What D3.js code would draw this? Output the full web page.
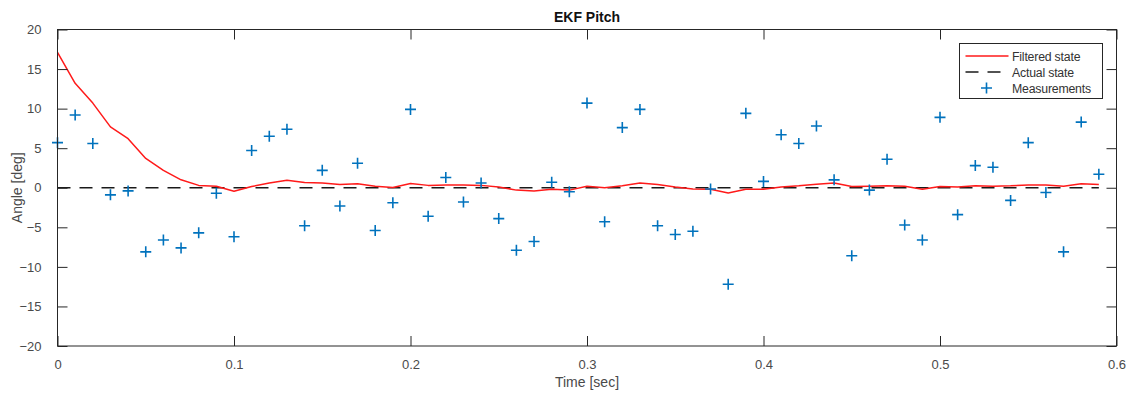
<!DOCTYPE html>
<html>
<head>
<meta charset="utf-8">
<script src="https://cdn.jsdelivr.net/npm/d3@7"></script>
<style>
  html, body { margin: 0; padding: 0; background: #fff; }
  svg { display: block; }
  text { font-family: "Liberation Sans", Arial, Helvetica, sans-serif; }
</style>
</head>
<body>
<svg id="chart" width="1134" height="396"></svg>
<script>
// Sample times [sec]
const time = d3.range(60).map(i => +(i * 0.01).toFixed(2));

// Noisy pitch measurements [deg]
const measurements = [
  5.7, 9.2, 5.6, -0.9, -0.4, -8.1, -6.6, -7.6, -5.7, -0.7,
  -6.2, 4.7, 6.5, 7.4, -4.8, 2.2, -2.3, 3.1, -5.4, -1.9,
  9.9, -3.6, 1.3, -1.8, 0.6, -3.9, -7.9, -6.8, 0.7, -0.5,
  10.7, -4.3, 7.6, 9.9, -4.8, -5.9, -5.5, -0.15, -12.2, 9.4,
  0.8, 6.7, 5.6, 7.8, 1.0, -8.6, -0.3, 3.6, -4.7, -6.6,
  8.9, -3.4, 2.8, 2.6, -1.6, 5.7, -0.6, -8.1, 8.3, 1.7
];

// EKF filtered pitch estimate [deg]
const filtered = [
  17.1, 13.2, 10.7, 7.7, 6.2, 3.7, 2.2, 1.0, 0.3, 0.2,
  -0.45, 0.15, 0.6, 0.95, 0.65, 0.6, 0.4, 0.5, 0.2, 0.03,
  0.55, 0.3, 0.35, 0.35, 0.3, 0.1, -0.3, -0.4, -0.2, -0.3,
  0.2, 0.0, 0.25, 0.6, 0.4, 0.1, -0.15, -0.2, -0.65, -0.2,
  -0.2, 0.1, 0.25, 0.45, 0.6, 0.15, 0.2, 0.25, 0.2, -0.2,
  0.15, 0.1, 0.25, 0.2, 0.25, 0.35, 0.35, 0.2, 0.5, 0.4
];

// True pitch [deg]
const actual = time.map(() => 0);

const xTicks = [0, 0.1, 0.2, 0.3, 0.4, 0.5, 0.6];
const yTicks = [-20, -15, -10, -5, 0, 5, 10, 15, 20];
const legendLabels = ["Filtered state", "Actual state", "Measurements"];

const axisColor = "#262626";
const labelColor = "#4a4a4a";
const blue = "#0072BD";
const red = "#FF1A1A";
const dash = "13,9";

const svg = d3.select("#chart");
const plotLeft = 57.5, plotRight = 1116.5, plotTop = 29.5, plotBottom = 346;

const x = d3.scaleLinear().domain([0, 0.6]).range([plotLeft, plotRight]);
const y = d3.scaleLinear().domain([-20, 20]).range([plotBottom, plotTop]);

const plot = svg.append("g");

// Actual state (dashed)
plot.append("path")
  .datum(time.map((t, i) => [t, actual[i]]))
  .attr("fill", "none")
  .attr("stroke", "#1a1a1a")
  .attr("stroke-width", 1.4)
  .attr("stroke-dasharray", dash)
  .attr("d", d3.line().x(d => x(d[0])).y(d => y(d[1])));

// Filtered state
plot.append("path")
  .datum(time.map((t, i) => [t, filtered[i]]))
  .attr("fill", "none")
  .attr("stroke", red)
  .attr("stroke-width", 1.5)
  .attr("stroke-linejoin", "round")
  .attr("d", d3.line().x(d => x(d[0])).y(d => y(d[1])));

// Measurement markers
const plusPath = (cx, cy, r) => `M${cx - r},${cy}H${cx + r}M${cx},${cy - r}V${cy + r}`;
plot.append("g")
  .selectAll("path")
  .data(time.map((t, i) => [t, measurements[i]]))
  .join("path")
  .attr("d", d => plusPath(x(d[0]), y(d[1]), 5.5))
  .attr("stroke", blue)
  .attr("stroke-width", 1.6)
  .attr("fill", "none");

// Axes: ticks pointing inward on all four sides
const tickLen = 10;
const xBottom = d3.axisBottom(x).tickValues(xTicks).tickSizeInner(-tickLen).tickSizeOuter(0)
  .tickPadding(14).tickFormat(d => d === 0 ? "0" : d3.format("")(d));
const xTop = d3.axisTop(x).tickValues(xTicks).tickSizeInner(-tickLen).tickSizeOuter(0).tickFormat("");
const yLeft = d3.axisLeft(y).tickValues(yTicks).tickSizeInner(-tickLen).tickSizeOuter(0).tickPadding(16);
const yRight = d3.axisRight(y).tickValues(yTicks).tickSizeInner(-tickLen).tickSizeOuter(0).tickFormat("");

function styleAxis(g) {
  g.select(".domain").remove();
  g.selectAll(".tick line").attr("stroke", axisColor).attr("stroke-width", 1);
  g.selectAll(".tick text").attr("fill", labelColor).attr("font-size", 13)
    .attr("font-family", "'Liberation Sans', Arial, sans-serif");
}

svg.append("g").attr("transform", `translate(0,${plotBottom})`).call(xBottom).call(styleAxis);
svg.append("g").attr("transform", `translate(0,${plotTop})`).call(xTop).call(styleAxis);
svg.append("g").attr("transform", `translate(${plotLeft},0)`).call(yLeft).call(styleAxis);
svg.append("g").attr("transform", `translate(${plotRight},0)`).call(yRight).call(styleAxis);

// Box outline
svg.append("rect")
  .attr("x", plotLeft).attr("y", plotTop)
  .attr("width", plotRight - plotLeft).attr("height", plotBottom - plotTop)
  .attr("fill", "none").attr("stroke", axisColor).attr("stroke-width", 1);

// Title and axis labels
svg.append("text")
  .attr("x", (plotLeft + plotRight) / 2).attr("y", 22)
  .attr("text-anchor", "middle")
  .attr("font-size", 14).attr("font-weight", "bold").attr("fill", "#111")
  .text("EKF Pitch");

svg.append("text")
  .attr("x", (plotLeft + plotRight) / 2).attr("y", 387)
  .attr("text-anchor", "middle")
  .attr("font-size", 14).attr("fill", labelColor)
  .text("Time [sec]");

svg.append("text")
  .attr("transform", `translate(22,${(plotTop + plotBottom) / 2}) rotate(-90)`)
  .attr("text-anchor", "middle")
  .attr("font-size", 14).attr("fill", labelColor)
  .text("Angle [deg]");

// Legend
const lg = svg.append("g").attr("transform", "translate(959.5,43.5)");
lg.append("rect").attr("width", 143).attr("height", 55)
  .attr("fill", "#fff").attr("stroke", axisColor).attr("stroke-width", 1);
const rowY = [12.5, 28.5, 44.5];
lg.append("line").attr("x1", 6).attr("x2", 49).attr("y1", rowY[0]).attr("y2", rowY[0])
  .attr("stroke", red).attr("stroke-width", 1.5);
lg.append("line").attr("x1", 6).attr("x2", 42).attr("y1", rowY[1]).attr("y2", rowY[1])
  .attr("stroke", "#1a1a1a").attr("stroke-width", 1.4).attr("stroke-dasharray", dash);
lg.append("path").attr("d", plusPath(27, rowY[2], 5.5))
  .attr("stroke", blue).attr("stroke-width", 1.6).attr("fill", "none");
lg.selectAll("text.lbl").data(legendLabels).join("text")
  .attr("class", "lbl")
  .attr("x", 52.5).attr("y", (d, i) => rowY[i] + 4.5)
  .attr("font-size", 12.3).attr("fill", "#333")
  .attr("letter-spacing", -0.2)
  .text(d => d);
</script>
</body>
</html>
